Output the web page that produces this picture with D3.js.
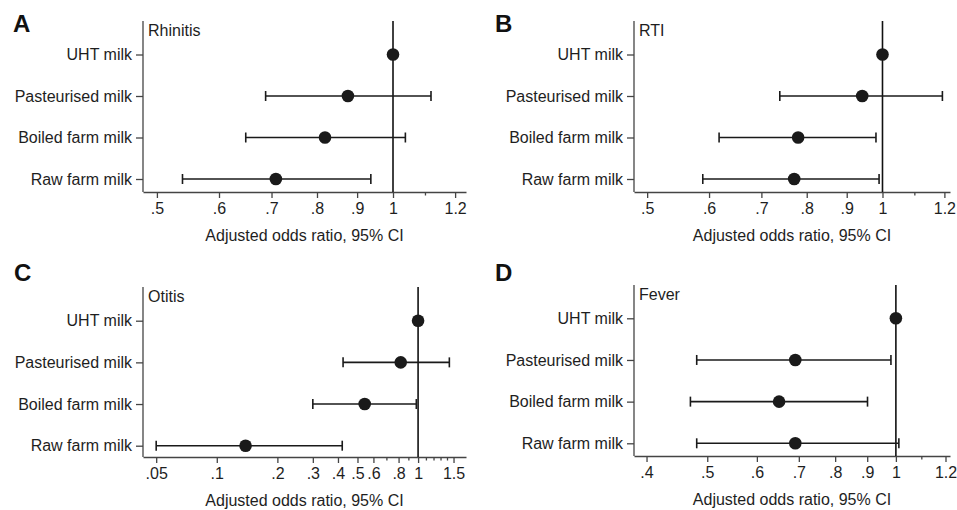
<!DOCTYPE html>
<html lang="en">
<head>
  <meta charset="UTF-8">
  <title>Milk types and odds ratios</title>
  <script src="https://cdn.jsdelivr.net/npm/d3@7/dist/d3.min.js"></script>
  <style>
    body { margin: 0; background: #fff; }
    text { font-family: "Liberation Sans", Arial, sans-serif; fill: #1e1e1e; }
  </style>
</head>
<body>
<script>
  // data (reference group = UHT milk, no CI)
  const categories = ["UHT milk", "Pasteurised milk", "Boiled farm milk", "Raw farm milk"];

  const rhinitisOR = [1, 0.876, 0.819, 0.709];
  const rhinitisLo = [null, 0.688, 0.649, 0.539];
  const rhinitisHi = [null, 1.118, 1.037, 0.937];

  const rtiOR = [1, 0.942, 0.780, 0.771];
  const rtiLo = [null, 0.739, 0.618, 0.589];
  const rtiHi = [null, 1.193, 0.981, 0.990];

  const otitisOR = [1, 0.820, 0.543, 0.139];
  const otitisLo = [null, 0.424, 0.300, 0.050];
  const otitisHi = [null, 1.430, 0.980, 0.420];

  const feverOR = [1, 0.691, 0.651, 0.691];
  const feverLo = [null, 0.481, 0.470, 0.481];
  const feverHi = [null, 0.982, 0.901, 1.011];

  // tick labels
  const ticksAB = [0.5, 0.6, 0.7, 0.8, 0.9, 1, 1.2];
  const minorAB = [1.1];
  const ticksC = [0.05, 0.1, 0.2, 0.3, 0.4, 0.5, 0.6, 0.8, 1, 1.5];
  const minorC = [0.7, 0.9, 1.1, 1.2, 1.3, 1.4];
  const ticksD = [0.4, 0.5, 0.6, 0.7, 0.8, 0.9, 1, 1.2];
  const minorD = [1.1];

  const svg = d3.select("body").append("svg")
    .attr("width", 957)
    .attr("height", 510);

  // ".5" style labels like Stata
  const fmt = v => String(v).replace(/^0\./, ".");

  const panels = [
    { letter: "A", title: "Rhinitis", or: rhinitisOR, lo: rhinitisLo, hi: rhinitisHi,
      domain: [0.48, 1.239], ticks: ticksAB, minor: minorAB,
      left: 143, right: 466, top: 21, bottom: 192, rows: [54.5, 179], lx: 13, ly: 32 },
    { letter: "B", title: "RTI", or: rtiOR, lo: rtiLo, hi: rtiHi,
      domain: [0.481, 1.22], ticks: ticksAB, minor: minorAB,
      left: 634, right: 950, top: 21, bottom: 192, rows: [54.5, 179], lx: 495, ly: 32 },
    { letter: "C", title: "Otitis", or: otitisOR, lo: otitisLo, hi: otitisHi,
      domain: [0.043, 1.73], ticks: ticksC, minor: minorC,
      left: 143, right: 466, top: 287, bottom: 457, rows: [320.7, 445.7], lx: 14, ly: 281 },
    { letter: "D", title: "Fever", or: feverOR, lo: feverLo, hi: feverHi,
      domain: [0.382, 1.22], ticks: ticksD, minor: minorD,
      left: 634, right: 950, top: 285, bottom: 456, rows: [318.3, 443.3], lx: 495, ly: 281 }
  ];

  panels.forEach(p => {
    const g = svg.append("g");

    const x = d3.scaleLog().domain(p.domain).range([p.left, p.right]);
    const y = d3.scalePoint().domain(categories).range(p.rows);

    // panel letter
    g.append("text")
      .attr("x", p.lx).attr("y", p.ly)
      .attr("font-size", 24).attr("font-weight", "bold")
      .style("fill", "#111")
      .text(p.letter);

    // x axis
    const xAxis = g.append("g")
      .attr("transform", "translate(0," + p.bottom + ")")
      .call(d3.axisBottom(x).tickValues(p.ticks).tickFormat(fmt)
        .tickSize(6).tickSizeOuter(0).tickPadding(5));
    xAxis.select(".domain").attr("stroke", "#444").attr("stroke-width", 1.3);
    xAxis.selectAll(".tick line").attr("stroke", "#444").attr("stroke-width", 1.3);
    xAxis.selectAll(".tick text")
      .attr("font-size", 16)
      .attr("font-family", null);

    // minor ticks
    g.append("g").selectAll("line")
      .data(p.minor)
      .enter()
      .append("line")
      .attr("x1", d => x(d)).attr("x2", d => x(d))
      .attr("y1", p.bottom).attr("y2", p.bottom + 3.5)
      .attr("stroke", "#444").attr("stroke-width", 1.3);

    // y axis line drawn by hand (runs full height)
    g.append("line")
      .attr("x1", p.left).attr("x2", p.left)
      .attr("y1", p.top).attr("y2", p.bottom)
      .attr("stroke", "#444").attr("stroke-width", 1.3);

    const yAxis = g.append("g")
      .attr("transform", "translate(" + p.left + ",0)")
      .call(d3.axisLeft(y).tickSize(7).tickPadding(4));
    yAxis.select(".domain").remove();
    yAxis.selectAll(".tick line").attr("stroke", "#444").attr("stroke-width", 1.3);
    yAxis.selectAll(".tick text")
      .attr("font-size", 16)
      .attr("font-family", null);

    // reference line at OR = 1
    g.append("line")
      .attr("x1", x(1)).attr("x2", x(1))
      .attr("y1", p.top).attr("y2", p.bottom)
      .attr("stroke", "#111").attr("stroke-width", 1.6);

    // outcome title inside plot
    g.append("text")
      .attr("x", p.left + 5).attr("y", p.top + 15)
      .attr("font-size", 16)
      .text(p.title);

    // axis title
    g.append("text")
      .attr("x", (p.left + p.right) / 2).attr("y", p.bottom + 49)
      .attr("text-anchor", "middle")
      .attr("font-size", 16)
      .text("Adjusted odds ratio, 95% CI");

    const rows = categories.map((c, i) => ({ cat: c, or: p.or[i], lo: p.lo[i], hi: p.hi[i] }));
    const withCI = rows.filter(d => d.lo != null);

    // error bars
    const bars = g.append("g").selectAll("g")
      .data(withCI)
      .enter()
      .append("g")
      .attr("stroke", "#1a1a1a").attr("stroke-width", 1.6);
    bars.append("line")
      .attr("x1", d => x(d.lo)).attr("x2", d => x(d.hi))
      .attr("y1", d => y(d.cat)).attr("y2", d => y(d.cat));
    bars.append("line")
      .attr("x1", d => x(d.lo)).attr("x2", d => x(d.lo))
      .attr("y1", d => y(d.cat) - 5).attr("y2", d => y(d.cat) + 5);
    bars.append("line")
      .attr("x1", d => x(d.hi)).attr("x2", d => x(d.hi))
      .attr("y1", d => y(d.cat) - 5).attr("y2", d => y(d.cat) + 5);

    // point estimates
    g.append("g").selectAll("circle")
      .data(rows)
      .enter()
      .append("circle")
      .attr("cx", d => x(d.or))
      .attr("cy", d => y(d.cat))
      .attr("r", 6.3)
      .attr("fill", "#1a1a1a");
  });
</script>
</body>
</html>
